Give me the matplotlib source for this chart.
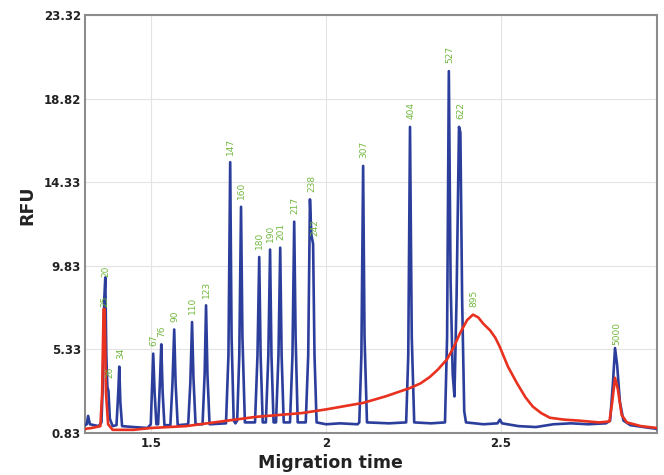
#!/usr/bin/env python3
# -*- coding: utf-8 -*-
"""Electropherogram: ladder trace (blue) and sample trace (red), RFU vs migration time."""

import matplotlib
matplotlib.use("Agg")
import matplotlib.pyplot as plt

# ------------ DATA ------------
BLUE_T = [1.311, 1.316, 1.320, 1.325, 1.350, 1.358, 1.362, 1.366, 1.369, 1.372, 1.375, 1.378,
          1.382, 1.390, 1.401, 1.406, 1.409, 1.412, 1.417, 1.450, 1.490, 1.499, 1.503, 1.506,
          1.510, 1.515, 1.520, 1.525, 1.529, 1.533, 1.538, 1.555, 1.561, 1.566, 1.570, 1.576,
          1.606, 1.612, 1.617, 1.621, 1.627, 1.647, 1.653, 1.657, 1.661, 1.667, 1.714, 1.721,
          1.726, 1.730, 1.736, 1.741, 1.746, 1.752, 1.757, 1.761, 1.768, 1.797, 1.804, 1.809,
          1.813, 1.819, 1.828, 1.835, 1.840, 1.844, 1.850, 1.857, 1.864, 1.869, 1.873, 1.879,
          1.897, 1.904, 1.909, 1.913, 1.919, 1.942, 1.949, 1.954, 1.958, 1.963, 1.967, 1.973,
          2.000, 2.040, 2.090, 2.095, 2.101, 2.106, 2.110, 2.117, 2.180, 2.229, 2.235, 2.240,
          2.245, 2.252, 2.300, 2.340, 2.346, 2.351, 2.356, 2.362, 2.367, 2.373, 2.380, 2.384,
          2.389, 2.395, 2.400, 2.450, 2.490, 2.497, 2.503, 2.550, 2.600, 2.650, 2.700, 2.750,
          2.800, 2.812, 2.820, 2.826, 2.832, 2.840, 2.850, 2.870, 2.946]
BLUE_RFU = [1.25, 1.30, 1.75, 1.30, 1.20, 1.40, 3.50, 8.00, 9.20, 5.00, 3.30, 3.10,
            1.60, 1.20, 1.25, 3.00, 4.40, 2.50, 1.20, 1.15, 1.10, 1.30, 3.50, 5.10,
            3.00, 1.30, 1.30, 3.50, 5.60, 3.00, 1.25, 1.25, 3.50, 6.40, 3.50, 1.25,
            1.30, 3.50, 6.80, 3.80, 1.30, 1.30, 4.00, 7.70, 4.00, 1.30, 1.35, 5.00,
            15.40, 6.00, 1.50, 1.35, 1.50, 5.00, 13.00, 6.00, 1.40, 1.40, 5.00, 10.30,
            5.00, 1.40, 1.40, 5.00, 10.70, 5.00, 1.40, 1.40, 5.00, 10.80, 5.00, 1.40,
            1.40, 5.00, 12.20, 6.00, 1.40, 1.40, 5.00, 13.40, 11.50, 11.00, 5.00, 1.40,
            1.30, 1.35, 1.30, 1.40, 5.00, 15.20, 6.00, 1.40, 1.35, 1.40, 5.00, 17.30,
            6.00, 1.40, 1.35, 1.40, 6.00, 20.30, 9.00, 4.00, 2.80, 8.00, 17.30, 17.00,
            8.00, 2.00, 1.40, 1.30, 1.35, 1.55, 1.35, 1.20, 1.15, 1.30, 1.35, 1.30,
            1.35, 1.50, 3.50, 5.40, 4.50, 2.50, 1.50, 1.25, 1.05]

RED_T = [1.311, 1.330, 1.355, 1.360, 1.364, 1.367, 1.371, 1.377, 1.390, 1.450, 1.500, 1.600,
         1.700, 1.800, 1.930, 2.000, 2.106, 2.170, 2.240, 2.270, 2.297, 2.320, 2.346, 2.365,
         2.383, 2.403, 2.420, 2.435, 2.450, 2.469, 2.484, 2.497, 2.520, 2.546, 2.570, 2.591,
         2.615, 2.640, 2.680, 2.720, 2.780, 2.810, 2.818, 2.826, 2.834, 2.845, 2.860, 2.900,
         2.946]
RED_RFU = [1.05, 1.10, 1.20, 3.00, 7.50, 7.50, 3.00, 1.30, 1.00, 1.00, 1.10, 1.20,
           1.45, 1.70, 1.90, 2.10, 2.45, 2.80, 3.25, 3.50, 3.85, 4.25, 4.80, 5.45,
           6.20, 6.90, 7.20, 7.05, 6.70, 6.35, 5.95, 5.45, 4.40, 3.50, 2.75, 2.25,
           1.90, 1.65, 1.55, 1.50, 1.40, 1.45, 2.50, 3.80, 3.20, 1.80, 1.40, 1.20,
           1.10]

PEAK_LABELS = ["20", "25", "26", "34", "67", "76", "90", "110", "123", "147", "160", "180",
               "190", "201", "217", "238", "242", "307", "404", "527", "622", "895", "5000"]
PEAK_T = [1.369, 1.366, 1.380, 1.412, 1.506, 1.529, 1.566, 1.617, 1.657, 1.726, 1.757, 1.809,
          1.840, 1.869, 1.909, 1.957, 1.967, 2.106, 2.240, 2.351, 2.382, 2.420, 2.829]
PEAK_RFU = [9.2, 7.5, 3.4, 4.4, 5.1, 5.6, 6.4, 6.8, 7.7, 15.4, 13.0, 10.3,
            10.7, 10.8, 12.2, 13.4, 11.0, 15.2, 17.3, 20.3, 17.3, 7.2, 5.4]

Y_TICKS = [0.83, 5.33, 9.83, 14.33, 18.82, 23.32]
X_TICKS = [1.5, 2.0, 2.5]
X_TICK_LABELS = ["1.5", "2", "2.5"]
# ------------------------------------------------------

BLUE = "#2c3e9c"
RED = "#e8311f"
GREEN = "#72b83e"
# labels that sit almost on their peak
TIGHT = {"20": 0.5, "25": 1.5, "5000": 2.0}


def main():
    fig = plt.figure(figsize=(6.64, 4.75), dpi=100)
    ax = fig.add_axes([85 / 664, 42 / 475, 572 / 664, 418 / 475])

    ax.plot(BLUE_T, BLUE_RFU, color=BLUE, lw=1.9, zorder=3, solid_joinstyle="round")
    ax.plot(RED_T, RED_RFU, color=RED, lw=1.9, zorder=4, solid_joinstyle="round")

    for lab, t, h in zip(PEAK_LABELS, PEAK_T, PEAK_RFU):
        off = TIGHT.get(lab, 5.5)
        ax.annotate(lab, (t, h), xytext=(0.5, off), textcoords="offset points",
                    rotation=90, ha="center", va="bottom", fontsize=6.5,
                    color=GREEN, zorder=5)

    ax.set_xlim(1.311, 2.946)
    ax.set_ylim(0.83, 23.32)
    ax.set_yticks(Y_TICKS)
    ax.set_yticklabels([f"{v:.2f}" for v in Y_TICKS])
    ax.set_xticks(X_TICKS)
    ax.set_xticklabels(X_TICK_LABELS)
    ax.tick_params(length=0, labelsize=8.5, colors="#222222", pad=3)
    for lbl in ax.get_xticklabels() + ax.get_yticklabels():
        lbl.set_fontweight("bold")

    ax.grid(True, color="#e3e3e3", lw=0.8, zorder=0)
    for sp in ax.spines.values():
        sp.set_color("#8c8c8c")
        sp.set_linewidth(1.5)

    ax.set_xlabel("Migration time", fontsize=12.5, fontweight="bold", color="#222222")
    ax.set_ylabel("RFU", fontsize=12.5, fontweight="bold", color="#222222")
    ax.xaxis.set_label_coords((330 - 85) / 572, (433 - 463) / 418)
    ax.xaxis.label.set_va("center")
    ax.yaxis.set_label_coords((27 - 85) / 572, (433 - 205) / 418)
    ax.yaxis.label.set_va("center")

    fig.savefig("out.png", dpi=100)
    plt.close(fig)


if __name__ == "__main__":
    main()
